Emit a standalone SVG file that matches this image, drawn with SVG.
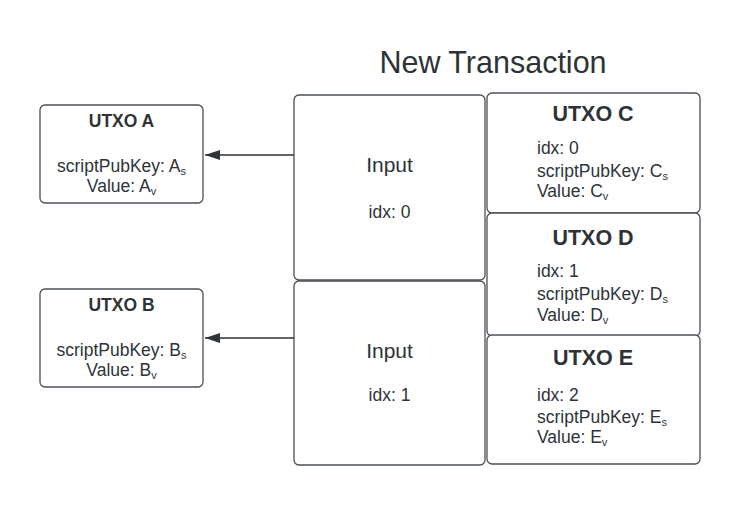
<svg xmlns="http://www.w3.org/2000/svg" width="740" height="505" viewBox="0 0 740 505">
<style>
.box{fill:#fff;stroke:#4a5058;stroke-width:1.3}
.t{font-family:"Liberation Sans",Arial,sans-serif;fill:#2e3338}
.s{font-size:17.5px}
.tb{font-size:17.5px;font-weight:bold}
.tB{font-size:21.5px;font-weight:bold}
.in{font-size:21px}
.sub{font-size:11px}
.c{text-anchor:middle}
.conn{stroke:#2e3338;stroke-width:1.3;fill:none}
</style>
<defs>
<marker id="ah" markerWidth="16" markerHeight="12" refX="15" refY="5" orient="auto" markerUnits="userSpaceOnUse">
<polygon points="0,0 15,5 0,10" fill="#2e3338"/>
</marker>
</defs>
<rect width="740" height="505" fill="#fff"/>
<text class="t c" x="493" y="73" font-size="30.5">New Transaction</text>

<g id="utxoA">
<rect class="box" x="40" y="105" width="163" height="98" rx="5"/>
<text class="t tb c" x="121.5" y="127">UTXO A</text>
<text class="t s c" x="121.5" y="172">scriptPubKey: A<tspan class="sub" dy="3">s</tspan></text>
<text class="t s c" x="121.5" y="192">Value: A<tspan class="sub" dy="3">v</tspan></text>
</g>

<g id="utxoB">
<rect class="box" x="40" y="289" width="163" height="98" rx="5"/>
<text class="t tb c" x="121.5" y="311">UTXO B</text>
<text class="t s c" x="121.5" y="356">scriptPubKey: B<tspan class="sub" dy="3">s</tspan></text>
<text class="t s c" x="121.5" y="376">Value: B<tspan class="sub" dy="3">v</tspan></text>
</g>

<g id="input0">
<rect class="box" x="294" y="95" width="191" height="185" rx="5"/>
<text class="t in c" x="389.5" y="172">Input</text>
<text class="t s c" x="389.5" y="218">idx: 0</text>
</g>

<g id="input1">
<rect class="box" x="294" y="281" width="191" height="184" rx="5"/>
<text class="t in c" x="389.5" y="358">Input</text>
<text class="t s c" x="389.5" y="401">idx: 1</text>
</g>

<g id="utxoC">
<rect class="box" x="487" y="93" width="213" height="120" rx="5"/>
<text class="t tB c" x="593" y="121">UTXO C</text>
<text class="t s" x="537" y="154">idx: 0</text>
<text class="t s" x="537" y="177">scriptPubKey: C<tspan class="sub" dy="3">s</tspan></text>
<text class="t s" x="537" y="197">Value: C<tspan class="sub" dy="3">v</tspan></text>
</g>

<g id="utxoD">
<rect class="box" x="487" y="213" width="213" height="123" rx="5"/>
<text class="t tB c" x="593" y="245">UTXO D</text>
<text class="t s" x="537" y="277">idx: 1</text>
<text class="t s" x="537" y="300">scriptPubKey: D<tspan class="sub" dy="3">s</tspan></text>
<text class="t s" x="537" y="321">Value: D<tspan class="sub" dy="3">v</tspan></text>
</g>

<g id="utxoE">
<rect class="box" x="487" y="335" width="213" height="129" rx="5"/>
<text class="t tB c" x="593" y="365">UTXO E</text>
<text class="t s" x="537" y="401">idx: 2</text>
<text class="t s" x="537" y="423">scriptPubKey: E<tspan class="sub" dy="3">s</tspan></text>
<text class="t s" x="537" y="443">Value: E<tspan class="sub" dy="3">v</tspan></text>
</g>

<g id="connectors">
<line class="conn" x1="294" y1="155" x2="205" y2="155" marker-end="url(#ah)"/>
<line class="conn" x1="294" y1="338" x2="205" y2="338" marker-end="url(#ah)"/>
</g>
</svg>
